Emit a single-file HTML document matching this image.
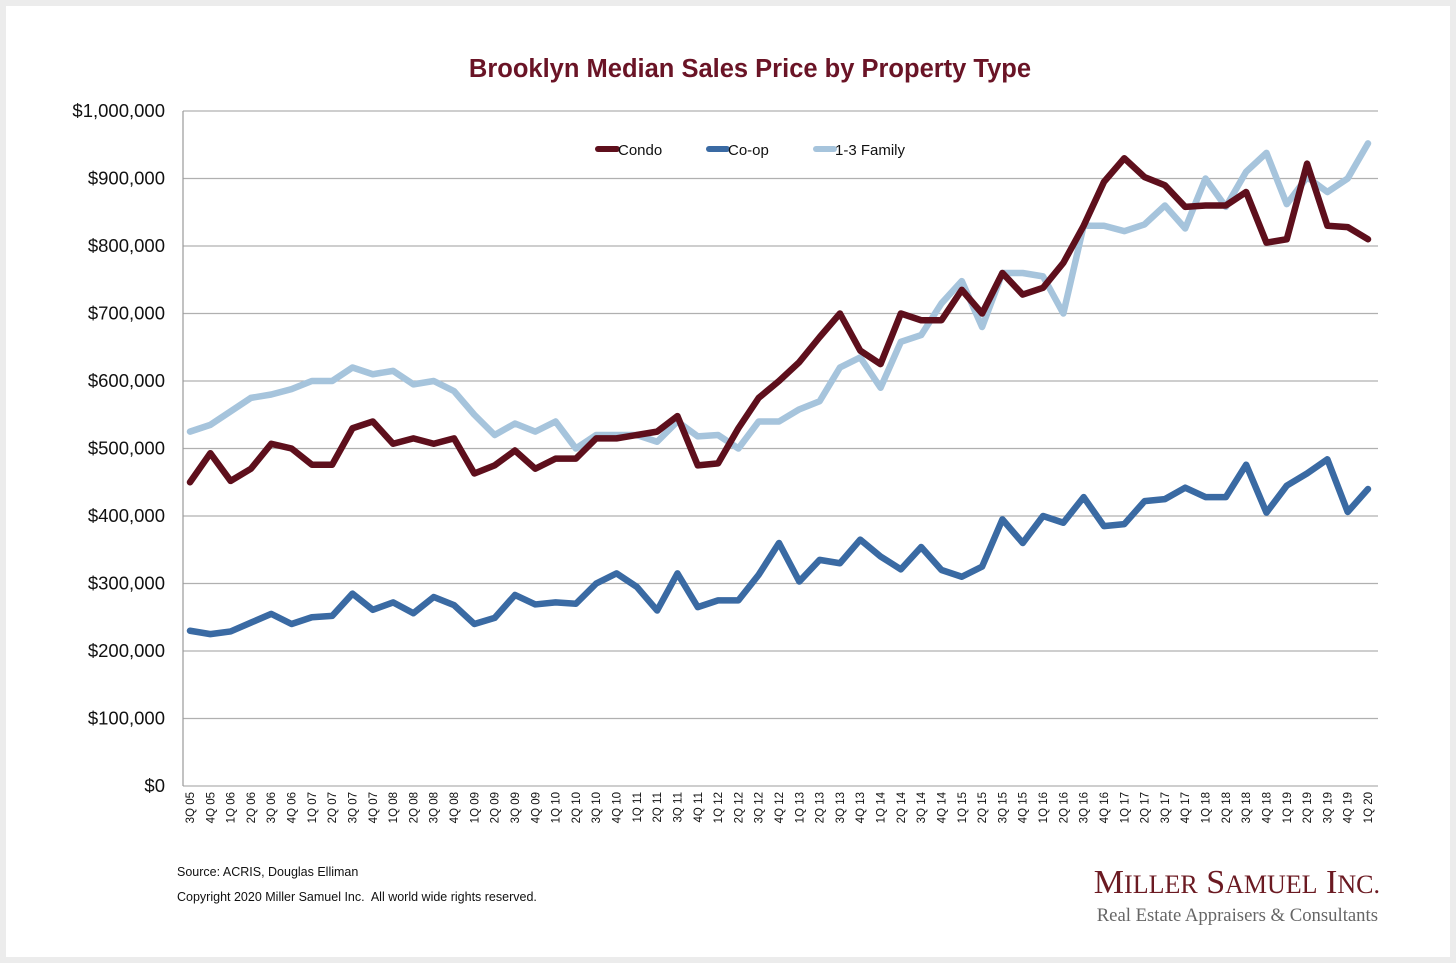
<!DOCTYPE html>
<html><head><meta charset="utf-8"><style>
body{margin:0;background:#ececec;}
#card{position:absolute;left:6px;top:6px;width:1444px;height:951px;background:#fff;}
svg{position:absolute;left:0;top:0}
</style></head><body>
<div id="card"></div>
<svg id="chart" width="1456" height="963" font-family="Liberation Sans, sans-serif">
<text x="750" y="77" text-anchor="middle" font-size="25.5" font-weight="bold" fill="#6a1426">Brooklyn Median Sales Price by Property Type</text>
<g id="grid"></g><g id="yticks"></g><g id="xticks"></g><g id="series"></g>
<g>
<g><line x1="598" y1="149" x2="617" y2="149" stroke="#5e0f1c" stroke-width="6" stroke-linecap="round"/><text x="618" y="155" font-size="15" fill="#111">Condo</text></g>
<g><line x1="709" y1="149" x2="727" y2="149" stroke="#3a6aa3" stroke-width="6" stroke-linecap="round"/><text x="728" y="155" font-size="15" fill="#111">Co-op</text></g>
<g><line x1="816" y1="149" x2="834" y2="149" stroke="#a6c4dc" stroke-width="6" stroke-linecap="round"/><text x="835" y="155" font-size="15" fill="#111">1-3 Family</text></g>
</g>
<text x="177" y="876" font-size="12.5" fill="#111">Source: ACRIS, Douglas Elliman</text>
<text x="177" y="901" font-size="12.5" fill="#111" style="white-space:pre">Copyright 2020 Miller Samuel Inc.  All world wide rights reserved.</text>
<text x="1380" y="893" text-anchor="end" font-family="Liberation Serif, serif" font-size="34" fill="#6b1a22">M<tspan font-size="26">ILLER</tspan> S<tspan font-size="26">AMUEL</tspan> I<tspan font-size="26">NC.</tspan></text>
<text x="1378" y="921" text-anchor="end" font-family="Liberation Serif, serif" font-size="18.7" fill="#666">Real Estate Appraisers &amp; Consultants</text>
</svg>
<script>
const categories=[];
const qs=['1Q','2Q','3Q','4Q'];
for(let y=5,q=2;!(y===20&&q===0);){categories.push(qs[q]+' '+String(y).padStart(2,'0'));q++;if(q===4){q=0;y++;}}
categories.push('1Q 20');
const condo=[450,493,452,470,507,500,476,476,530,540,507,515,507,515,463,475,497,470,485,485,515,515,520,525,548,475,478,530,575,600,628,665,700,645,625,700,690,690,735,700,760,728,738,775,830,895,930,902,890,858,860,860,880,805,810,922,830,828,810];
const coop=[230,225,229,242,255,240,250,252,285,261,272,256,280,268,240,249,283,269,272,270,300,315,295,260,315,265,275,275,313,360,303,335,330,365,340,321,354,320,310,325,395,360,400,390,428,385,388,422,425,442,428,428,476,405,445,463,484,406,440];
const family=[525,535,555,575,580,588,600,600,620,610,615,595,600,585,550,520,537,525,540,500,520,520,520,510,540,518,520,500,540,540,558,570,620,635,590,658,668,715,748,680,760,760,755,700,830,830,822,832,860,826,900,858,910,938,862,902,880,900,952];
const yTicks=[0,100,200,300,400,500,600,700,800,900,1000];
const yLabels=['$0','$100,000','$200,000','$300,000','$400,000','$500,000','$600,000','$700,000','$800,000','$900,000','$1,000,000'];
const NS='http://www.w3.org/2000/svg';
const x0=190,x1=1368,y0=786,y1=111;
const xs=i=>x0+(x1-x0)*i/(categories.length-1);
const ys=v=>y0-(y0-y1)*v/1000;
function mk(t,a,p){const e=document.createElementNS(NS,t);for(const k in a)e.setAttribute(k,a[k]);p.appendChild(e);return e;}
const grid=document.getElementById('grid'),yt=document.getElementById('yticks'),xt=document.getElementById('xticks'),se=document.getElementById('series');
yTicks.forEach((v,i)=>{
 const l=mk('line',{x1:183,x2:1378,y1:ys(v),y2:ys(v),stroke:'#b0b0b0','stroke-width':1.2},grid);
 
 
 const t=mk('text',{x:165,y:ys(v)+6,'text-anchor':'end','font-size':18.5,fill:'#111'},yt);
 t.textContent=yLabels[i];
 
 
});
const ax=mk('line',{x1:183,x2:183,y1:111,y2:786,stroke:'#999','stroke-width':1.2},grid);


categories.forEach((c,i)=>{
 const t=mk('text',{transform:`translate(${xs(i)+4},792) rotate(-90)`,'text-anchor':'end','font-size':11.5,fill:'#111'},xt);
 t.textContent=c;
 
 
});
[[family,'#a6c4dc','series-family'],[coop,'#3a6aa3','series-coop'],[condo,'#5e0f1c','series-condo']].forEach(([d,c,n])=>{
 const p=mk('polyline',{points:d.map((v,i)=>xs(i)+','+ys(v)).join(' '),fill:'none',stroke:c,'stroke-width':6.5,'stroke-linejoin':'round','stroke-linecap':'round'},se);
 
 
});
</script>
</body></html>
